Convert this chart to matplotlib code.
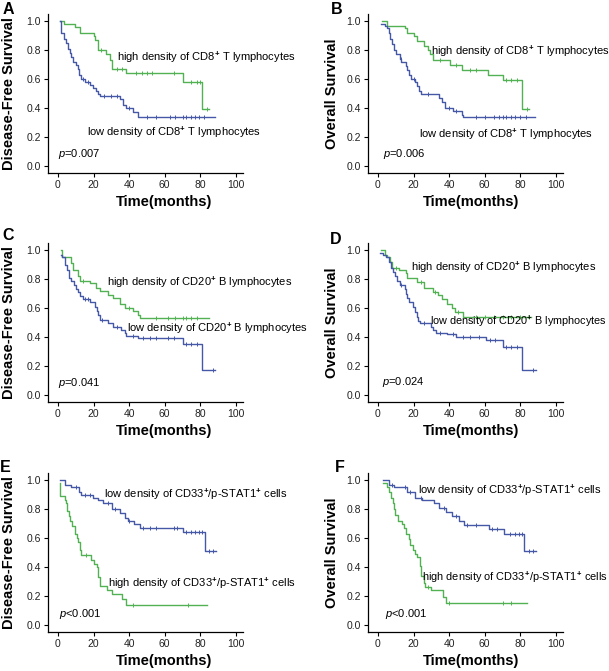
"""
Kaplan-Meier survival curves, six panels (A-F):
DFS / OS by density of CD8+ T, CD20+ B and CD33+/p-STAT1+ cells.
"""

import numpy as np
import matplotlib
matplotlib.use("Agg")
import matplotlib.pyplot as plt

plt.rcParams["font.family"] = ["Liberation Sans", "DejaVu Sans"]
plt.rcParams["mathtext.fontset"] = "custom"
plt.rcParams["mathtext.rm"] = "Liberation Sans"
plt.rcParams["mathtext.it"] = "Liberation Sans:italic"
plt.rcParams["mathtext.bf"] = "Liberation Sans:bold"

GREEN = "#52b152"
BLUE = "#4558a8"

# ---- data: step times, survival after each step, last follow-up, censored times ----

# A: DFS, CD8
a_high_t = [1, 3.5, 9.5, 12.5, 20, 21, 22.5, 27, 29, 30.6, 38.5, 70, 81]
a_high_s = [1.0, 0.98, 0.96, 0.92, 0.90, 0.87, 0.80, 0.77, 0.73, 0.67, 0.64, 0.58, 0.39]
a_high_end = 85
a_high_cens = [24, 33, 36, 44, 47, 50, 53, 65, 75, 78, 80, 84]

a_low_t = [1, 1.5, 3.5, 4.5, 5.5, 6.5, 7.5, 8.5, 10, 11, 12, 13, 15, 18, 19.5,
           21.5, 22.5, 23.5, 35, 36.5, 38.5, 42, 45]
a_low_s = [1.0, 0.92, 0.88, 0.85, 0.81, 0.78, 0.75, 0.72, 0.70, 0.67, 0.63, 0.60,
           0.58, 0.56, 0.54, 0.52, 0.50, 0.48, 0.46, 0.42, 0.40, 0.37, 0.34]
a_low_end = 88
a_low_cens = [14, 17, 26, 30, 33, 40, 50, 55, 63, 66, 70, 72, 75, 77, 79, 82]

# B: OS, CD8
b_high_t = [2, 5, 15, 16.5, 20, 22, 26, 28, 29.5, 31, 40.5, 47, 62, 70, 81]
b_high_s = [1.0, 0.97, 0.95, 0.92, 0.90, 0.86, 0.83, 0.80, 0.77, 0.73, 0.70,
            0.66, 0.63, 0.59, 0.39]
b_high_end = 85
b_high_cens = [35, 44, 52, 55, 72, 75, 78, 84]

b_low_t = [1.5, 4, 5, 6.2, 7, 8, 9, 10.4, 12.3, 13.2, 15.7, 16.4, 17.5, 18.5,
           20.7, 22, 23.2, 24, 34.5, 35.8, 37.7, 42, 47, 48]
b_low_s = [0.98, 0.97, 0.95, 0.92, 0.88, 0.84, 0.80, 0.77, 0.74, 0.72, 0.69,
           0.66, 0.63, 0.60, 0.58, 0.55, 0.52, 0.50, 0.47, 0.44, 0.40, 0.38,
           0.35, 0.34]
b_low_end = 88
b_low_cens = [13, 20, 28, 40, 44, 55, 60, 65, 68, 70, 72, 75, 77, 80, 83]

# C: DFS, CD20
c_high_t = [1.5, 2.4, 7.5, 8.5, 11.5, 12.5, 17.8, 21.6, 23.5, 28, 31, 34.7,
            37.5, 42, 45, 46.3]
c_high_s = [1.0, 0.95, 0.91, 0.86, 0.82, 0.79, 0.77, 0.74, 0.72, 0.69, 0.67,
            0.63, 0.60, 0.58, 0.55, 0.53]
c_high_end = 85
c_high_cens = [14, 40, 55, 62, 66, 70, 72, 75, 78]

c_low_t = [1.5, 2, 4.2, 5, 6, 7.5, 8.8, 10, 11, 12.2, 14, 18, 20.6, 21.8, 22.5,
           23.5, 28.2, 31, 35.6, 37.5, 38.5, 45, 70, 81]
c_low_s = [0.97, 0.95, 0.90, 0.86, 0.81, 0.79, 0.76, 0.73, 0.71, 0.68, 0.66,
           0.64, 0.61, 0.58, 0.55, 0.52, 0.50, 0.47, 0.45, 0.43, 0.41, 0.39,
           0.35, 0.17]
c_low_end = 88
c_low_cens = [15, 17, 25, 33, 42, 48, 52, 55, 62, 65, 72, 75, 78, 87]

# D: OS, CD20
d_high_t = [1.5, 4, 5, 6.5, 8, 12, 15.5, 16.4, 22, 26, 30.7, 34, 36, 38.7,
            41.5, 43.4, 47.7]
d_high_s = [1.0, 0.97, 0.95, 0.92, 0.88, 0.86, 0.84, 0.81, 0.78, 0.74, 0.71,
            0.69, 0.66, 0.63, 0.60, 0.57, 0.54]
d_high_end = 86
d_high_cens = [10, 24, 32, 45, 55, 60, 65, 70, 75, 80, 85]

d_low_t = [1, 3, 4.7, 6.2, 7.5, 8.5, 9.5, 10.8, 12.3, 15, 15.7, 16.4, 17.4,
           19.8, 20.7, 21.7, 22.6, 23.6, 30, 31, 32.4, 38.7, 44, 61, 70, 81]
d_low_s = [0.98, 0.97, 0.95, 0.92, 0.88, 0.85, 0.82, 0.79, 0.76, 0.73, 0.70,
           0.67, 0.64, 0.61, 0.57, 0.54, 0.51, 0.50, 0.47, 0.45, 0.43, 0.42,
           0.40, 0.38, 0.33, 0.17]
d_low_end = 88.7
d_low_cens = [13, 26, 35, 42, 48, 52, 57, 63, 66, 72, 75, 78, 87]

# E: DFS, CD33+/p-STAT1+
e_low_t = [1, 4, 7.5, 12, 13, 19.7, 22.5, 25.3, 30.6, 34.7, 37.5, 39.4, 43,
           46, 70, 82.5]
e_low_s = [1.0, 0.97, 0.95, 0.92, 0.90, 0.88, 0.86, 0.84, 0.80, 0.77, 0.74,
           0.72, 0.70, 0.67, 0.64, 0.51]
e_low_end = 89
e_low_cens = [10, 15, 18, 28, 32, 40, 48, 52, 55, 65, 67, 72, 75, 77, 79, 81,
              85, 87]

e_high_t = [1, 1.4, 3.8, 4.3, 5.3, 6, 7, 8, 9.4, 10.7, 11.4, 12.2, 13, 18.4,
            20.5, 21.8, 22.7, 23.6, 27.4, 30.2, 36, 38]
e_high_s = [0.98, 0.89, 0.86, 0.84, 0.79, 0.75, 0.72, 0.68, 0.63, 0.60, 0.57,
            0.52, 0.48, 0.45, 0.42, 0.40, 0.33, 0.27, 0.24, 0.21, 0.18, 0.14]
e_high_end = 83.5
e_high_cens = [16, 42, 73]

# F: OS, CD33+/p-STAT1+
f_low_t = [3, 6, 9, 16.4, 21, 25, 31.4, 34.2, 38, 41.7, 45.5, 48.3, 62.4, 71, 82]
f_low_s = [1.0, 0.97, 0.95, 0.92, 0.88, 0.86, 0.84, 0.81, 0.78, 0.75, 0.72,
           0.69, 0.66, 0.63, 0.51]
f_low_end = 88.7
f_low_cens = [8, 15, 18, 24, 37, 44, 50, 55, 64, 67, 74, 77, 79, 81, 85, 87]

f_high_t = [2.8, 5, 6.4, 7.5, 8.3, 8.8, 9.8, 11.3, 13.5, 14.5, 15.8, 17.3,
            18.2, 19.5, 21, 22, 23.5, 24.4, 25.7, 26.7, 30, 36.5, 38.3]
f_high_s = [0.98, 0.95, 0.92, 0.88, 0.84, 0.80, 0.76, 0.72, 0.70, 0.67, 0.63,
            0.59, 0.55, 0.52, 0.49, 0.47, 0.41, 0.34, 0.29, 0.26, 0.24, 0.19,
            0.15]
f_high_end = 84
f_high_cens = [28, 40, 70, 75]


def km_curve(ax, t, s, end, cens, color):
    """Draw one step curve with censor ticks."""
    x = list(t) + [end]
    y = list(s) + [s[-1]]
    ax.step(x, y, where="post", color=color, lw=1.0)
    idx = np.searchsorted(t, cens, side="right") - 1
    ax.plot(cens, np.asarray(s)[idx], ls="none", marker="|", ms=3,
            mew=0.7, color=color)


def style_axes(ax, ylabel, xlab_x):
    ax.set_xlim(-5.6, 104)
    ax.set_ylim(-0.05, 1.05)
    ax.set_xticks([0, 20, 40, 60, 80, 100])
    ax.set_yticks([0.0, 0.2, 0.4, 0.6, 0.8, 1.0])
    ax.set_yticklabels(["0.0", "0.2", "0.4", "0.6", "0.8", "1.0"])
    for side in ("top", "right"):
        ax.spines[side].set_visible(False)
    for side in ("left", "bottom"):
        ax.spines[side].set_linewidth(0.9)
    ax.tick_params(direction="out", length=3, width=0.8, labelsize=7.5,
                   labelcolor="#222222", pad=2)
    ax.set_xlabel("Time(months)", fontsize=10.5, fontweight="bold")
    ax.xaxis.set_label_coords(xlab_x, -0.14)
    ax.set_ylabel(ylabel, fontsize=10.5, fontweight="bold")


fig = plt.figure(figsize=(6.09, 6.71), dpi=100)

L, R = 48 / 609, 368 / 609
W = 195 / 609
H = 159 / 671
rows = [(671 - 173) / 671, (671 - 402) / 671, (671 - 632) / 671]

ax_a = fig.add_axes([L, rows[0], W, H])
ax_b = fig.add_axes([R, rows[0], W, H])
ax_c = fig.add_axes([L, rows[1], W, H])
ax_d = fig.add_axes([R, rows[1], W, H])
ax_e = fig.add_axes([L, rows[2], W, H])
ax_f = fig.add_axes([R, rows[2], W, H])

# A
km_curve(ax_a, a_high_t, a_high_s, a_high_end, a_high_cens, GREEN)
km_curve(ax_a, a_low_t, a_low_s, a_low_end, a_low_cens, BLUE)
ax_a.text(33, 0.75, r"high density of CD8$^{\mathbf{+}}$ T lymphocytes", fontsize=8, va="center")
ax_a.text(16.4, 0.23, r"low density of CD8$^{\mathbf{+}}$ T lymphocytes", fontsize=8, va="center")
ax_a.text(0, 0.08, r"$p$=0.007", fontsize=8, va="center")
style_axes(ax_a, "Disease-Free Survival", 0.595)

# B
km_curve(ax_b, b_high_t, b_high_s, b_high_end, b_high_cens, GREEN)
km_curve(ax_b, b_low_t, b_low_s, b_low_end, b_low_cens, BLUE)
ax_b.text(30, 0.79, r"high density of CD8$^{\mathbf{+}}$ T lymphocytes", fontsize=8, va="center")
ax_b.text(23, 0.22, r"low density of CD8$^{\mathbf{+}}$ T lymphocytes", fontsize=8, va="center")
ax_b.text(2.8, 0.08, r"$p$=0.006", fontsize=8, va="center")
style_axes(ax_b, "Overall Survival", 0.53)

# C
km_curve(ax_c, c_high_t, c_high_s, c_high_end, c_high_cens, GREEN)
km_curve(ax_c, c_low_t, c_low_s, c_low_end, c_low_cens, BLUE)
ax_c.text(27.5, 0.78, r"high density of CD20$^{\mathbf{+}}$ B lymphocytes", fontsize=8, va="center")
ax_c.text(39, 0.46, r"low density of CD20$^{\mathbf{+}}$ B lymphocytes", fontsize=8, va="center")
ax_c.text(0, 0.08, r"$p$=0.041", fontsize=8, va="center")
style_axes(ax_c, "Disease-Free Survival", 0.595)

# D
km_curve(ax_d, d_high_t, d_high_s, d_high_end, d_high_cens, GREEN)
km_curve(ax_d, d_low_t, d_low_s, d_low_end, d_low_cens, BLUE)
ax_d.text(18.6, 0.88, r"high density of CD20$^{\mathbf{+}}$ B lymphocytes", fontsize=8, va="center")
ax_d.text(29.5, 0.51, r"low density of CD20$^{\mathbf{+}}$ B lymphocytes", fontsize=7.8, va="center")
ax_d.text(2.2, 0.09, r"$p$=0.024", fontsize=8, va="center")
style_axes(ax_d, "Overall Survival", 0.53)

# E
km_curve(ax_e, e_low_t, e_low_s, e_low_end, e_low_cens, BLUE)
km_curve(ax_e, e_high_t, e_high_s, e_high_end, e_high_cens, GREEN)
ax_e.text(26, 0.90, r"low density of CD33$^{\mathbf{+}}$/p-STAT1$^{\mathbf{+}}$ cells", fontsize=8, va="center")
ax_e.text(28, 0.29, r"high density of CD33$^{\mathbf{+}}$/p-STAT1$^{\mathbf{+}}$ cells", fontsize=8, va="center")
ax_e.text(0.5, 0.075, r"$p$<0.001", fontsize=8, va="center")
style_axes(ax_e, "Disease-Free Survival", 0.595)

# F
km_curve(ax_f, f_low_t, f_low_s, f_low_end, f_low_cens, BLUE)
km_curve(ax_f, f_high_t, f_high_s, f_high_end, f_high_cens, GREEN)
ax_f.text(22.5, 0.93, r"low density of CD33$^{\mathbf{+}}$/p-STAT1$^{\mathbf{+}}$ cells", fontsize=8, va="center")
ax_f.text(25, 0.33, r"high density of CD33$^{\mathbf{+}}$/p-STAT1$^{\mathbf{+}}$ cells", fontsize=7.9, va="center")
ax_f.text(3.9, 0.075, r"$p$<0.001", fontsize=8, va="center")
style_axes(ax_f, "Overall Survival", 0.53)

# y label positions (right edge of rotated label)
for ax in (ax_a, ax_c, ax_e):
    ax.yaxis.set_label_coords(-0.165, 0.5)
for ax in (ax_b, ax_d, ax_f):
    ax.yaxis.set_label_coords(-0.15, 0.5)

# panel letters
for letter, x, y in [("A", 3, 2), ("B", 331, 2), ("C", 2, 228),
                     ("D", 330, 232), ("E", 0, 460), ("F", 335, 460)]:
    fig.text(x / 609, 1 - y / 671, letter, fontsize=11.5, fontweight="bold",
             ha="left", va="top")

plt.savefig("out.png", dpi=100)
plt.close()
